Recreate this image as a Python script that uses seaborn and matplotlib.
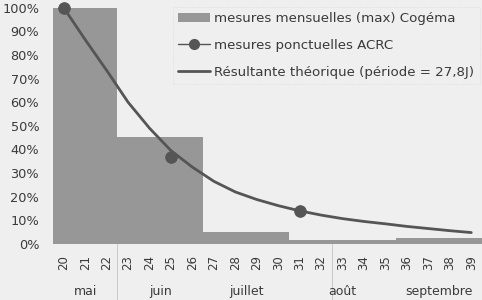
import numpy as np
import pandas as pd
import matplotlib
matplotlib.use("Agg")
import matplotlib.pyplot as plt
import seaborn as sns
from matplotlib.patches import Patch
from matplotlib.lines import Line2D

# ---- data ----
weeks = [str(w) for w in range(20, 40)]
months = ["mai", "juin", "juillet", "août", "septembre"]
month_weeks = [3, 4, 4, 5, 4]                 # number of weeks per month
cogema_max = [100, 45.2, 5.2, 1.7, 2.4]       # % monthly max (Cogéma)
acrc_weeks = ["20", "25", "31"]
acrc_values = [100, 37, 14]                   # % ACRC point measures
theory = [100, 86.5, 73.5, 60, 49, 39.5, 32.5, 26.5, 22, 18.8,
          16.2, 14, 12.2, 10.7, 9.5, 8.5, 7.4, 6.5, 5.6, 4.8]

labels = ["mesures mensuelles (max) Cogéma",
          "mesures ponctuelles ACRC",
          "Résultante théorique (période = 27,8J)"]

# ---- tables ----
bar_vals = np.repeat(cogema_max, month_weeks)
df_bar = pd.DataFrame({"week": weeks, "value": bar_vals})
df_line = pd.DataFrame({"pos": np.arange(len(weeks)), "value": theory})
df_pts = pd.DataFrame({"pos": [weeks.index(w) for w in acrc_weeks], "value": acrc_values})

bg = "#efefef"
txt = "#3a3a3a"
bar_col = "#979797"
line_col = "#555555"

sns.set_theme(style="white")
plt.rcParams["font.family"] = ["DejaVu Sans"]

fig = plt.figure(figsize=(4.82, 3.0), dpi=100, facecolor=bg)
ax = fig.add_axes([0.11, 0.187, 0.89, 0.787])
ax.set_facecolor(bg)

sns.barplot(data=df_bar, x="week", y="value", order=weeks, color=bar_col,
            width=1.0, saturation=1, edgecolor="none", linewidth=0, ax=ax)
sns.lineplot(data=df_line, x="pos", y="value", color=line_col, linewidth=2.0,
             ax=ax, sort=False)
sns.scatterplot(data=df_pts, x="pos", y="value", color=line_col, s=70,
                edgecolor=line_col, zorder=5, ax=ax, clip_on=False)

ax.set_xlim(-0.5, len(weeks) - 0.5)
ax.set_ylim(0, 100)
ax.set_yticks(range(0, 101, 10))
ax.set_yticklabels([f"{v}%" for v in range(0, 101, 10)], fontsize=9.3, color=txt)
ax.set_xticks(range(len(weeks)))
ax.set_xticklabels(weeks, rotation=90, fontsize=8.5, color=txt)
ax.tick_params(axis="y", length=0, pad=10)
ax.tick_params(axis="x", length=0, pad=8)
ax.set_xlabel("")
ax.set_ylabel("")
for s in ax.spines.values():
    s.set_visible(False)

# month labels
start = 0
for m, n in zip(months, month_weeks):
    center = start + (n - 1) / 2
    ax.text(center, -0.2, m, transform=ax.get_xaxis_transform(), ha="center",
            va="center", fontsize=9, color=txt)
    start += n
# faint separators below the axis
for xs in [2.5, 12.5]:
    ax.plot([xs, xs], [0, -0.25], transform=ax.get_xaxis_transform(),
            color="#c8c8c8", lw=0.7, clip_on=False)

handles = [Patch(facecolor=bar_col, edgecolor="none"),
           Line2D([], [], color=line_col, lw=1.0, marker="o", markersize=7),
           Line2D([], [], color=line_col, lw=2.0)]
leg = ax.legend(handles, labels, loc="upper left", bbox_to_anchor=(0.28, 1.005),
                frameon=True, fontsize=9.6, labelcolor=txt, handlelength=2.4,
                handletextpad=0.3, labelspacing=1.05, borderpad=0.4,
                fancybox=False, facecolor=bg, borderaxespad=0)
leg.get_frame().set_edgecolor("#d4d4d4")
leg.get_frame().set_linewidth(0.6)
leg.get_frame().set_linestyle(":")

fig.savefig("out.png", dpi=100, facecolor=bg)
